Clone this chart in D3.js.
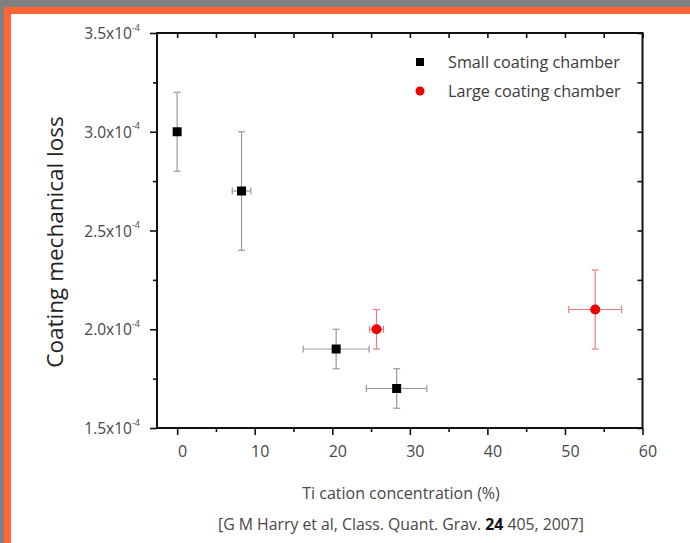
<!DOCTYPE html>
<html>
<head>
<meta charset="utf-8">
<script src="https://cdn.jsdelivr.net/npm/d3@7/dist/d3.min.js"></script>
<style>
  html, body { margin: 0; padding: 0; background: #808080; }
  svg { display: block; }
  text { font-family: "Open Sans", "DejaVu Sans", sans-serif; }
</style>
</head>
<body>
<script>
// Ti cation concentration (%) on x, coating mechanical loss (x10^-4) on y
const smallX    = [0, 8.3, 20.5, 28.3];
const smallY    = [3.0, 2.7, 1.9, 1.7];
const smallXErr = [0, 1.2, 4.25, 3.9];
const smallYErr = [0.2, 0.3, 0.1, 0.1];

const largeX    = [25.7, 53.9];
const largeY    = [2.0, 2.1];
const largeXErr = [0.9, 3.4];
const largeYErr = [0.1, 0.2];

const xTicks = [0, 10, 20, 30, 40, 50, 60];
const xMinorTicks = [5, 15, 25, 35, 45, 55];
const yTicks = [1.5, 2.0, 2.5, 3.0, 3.5];
const yTickLabels = ["1.5x10", "2.0x10", "2.5x10", "3.0x10", "3.5x10"];
const yMinorTicks = [1.75, 2.25, 2.75, 3.25];
const legendLabels = ["Small coating chamber", "Large coating chamber"];

(function draw() {
  const W = 690, H = 543;
  const svg = d3.select("body").append("svg").attr("width", W).attr("height", H);

  // slide frame: orange border with white panel
  svg.append("rect").attr("x", 4).attr("y", 7).attr("width", W - 4).attr("height", H - 7).attr("fill", "#ff6633");
  svg.append("rect").attr("x", 11).attr("y", 14).attr("width", W - 11).attr("height", H - 14).attr("fill", "#ffffff");

  const x = d3.scaleLinear().domain([-2.6, 60]).range([157, 642.5]);
  const y = d3.scaleLinear().domain([1.5, 3.5]).range([428, 33]);

  const pl = x.range()[0], pr = x.range()[1], pt = y.range()[1], pb = y.range()[0];

  const axisColor = "#111";
  const labelColor = "#474747";

  // bottom axis: major + minor ticks pointing out
  const gB = svg.append("g").attr("transform", `translate(0,${pb})`);
  gB.call(d3.axisBottom(x).tickValues(xTicks).tickSize(7).tickPadding(11).tickFormat(d3.format("d")));
  gB.selectAll(".tick text").attr("font-size", 16).attr("dx", 5).attr("fill", labelColor)
    .style("font-family", "'Open Sans', sans-serif");
  const gBm = svg.append("g").attr("transform", `translate(0,${pb})`);
  gBm.call(d3.axisBottom(x).tickValues(xMinorTicks).tickSize(4).tickFormat(""));

  // top axis: ticks pointing in
  const gT = svg.append("g").attr("transform", `translate(0,${pt})`);
  gT.call(d3.axisBottom(x).tickValues(xTicks.concat(xMinorTicks)).tickSize(5).tickFormat(""));

  // left axis: major + minor ticks pointing out
  const gL = svg.append("g").attr("transform", `translate(${pl},0)`);
  gL.call(d3.axisLeft(y).tickValues(yTicks).tickSize(7).tickPadding(10).tickFormat((d, i) => yTickLabels[i]));
  gL.selectAll(".tick text")
    .attr("font-size", 15.5).attr("fill", labelColor).style("font-family", "'Open Sans', sans-serif")
    .attr("dy", "0.36em")
    .append("tspan").attr("font-size", 9).attr("dy", "-0.95em").text("-4");
  const gLm = svg.append("g").attr("transform", `translate(${pl},0)`);
  gLm.call(d3.axisLeft(y).tickValues(yMinorTicks).tickSize(4).tickFormat(""));

  // right axis: ticks pointing in
  const gR = svg.append("g").attr("transform", `translate(${pr},0)`);
  gR.call(d3.axisRight(y).tickValues(yTicks.concat(yMinorTicks)).tickSize(-5).tickFormat(""));

  svg.selectAll(".domain").remove();
  svg.selectAll(".tick line").attr("stroke", axisColor).attr("stroke-width", 1.6);

  // plot frame
  svg.append("rect")
    .attr("x", pl).attr("y", pt).attr("width", pr - pl).attr("height", pb - pt)
    .attr("fill", "none").attr("stroke", axisColor).attr("stroke-width", 2);

  // error bars
  function errorBars(xs, ys, xe, ye, color) {
    const g = svg.append("g").attr("stroke", color).attr("stroke-width", 1.2).attr("fill", "none");
    const cap = 3.5;
    xs.forEach((xv, i) => {
      const cx = x(xv), cy = y(ys[i]);
      if (ye[i] > 0) {
        const y0 = y(ys[i] - ye[i]), y1 = y(ys[i] + ye[i]);
        g.append("line").attr("x1", cx).attr("x2", cx).attr("y1", y0).attr("y2", y1);
        g.append("line").attr("x1", cx - cap).attr("x2", cx + cap).attr("y1", y0).attr("y2", y0);
        g.append("line").attr("x1", cx - cap).attr("x2", cx + cap).attr("y1", y1).attr("y2", y1);
      }
      if (xe[i] > 0) {
        const x0 = x(xv - xe[i]), x1 = x(xv + xe[i]);
        g.append("line").attr("x1", x0).attr("x2", x1).attr("y1", cy).attr("y2", cy);
        g.append("line").attr("x1", x0).attr("x2", x0).attr("y1", cy - cap).attr("y2", cy + cap);
        g.append("line").attr("x1", x1).attr("x2", x1).attr("y1", cy - cap).attr("y2", cy + cap);
      }
    });
  }
  errorBars(smallX, smallY, smallXErr, smallYErr, "#9a9a9a");
  errorBars(largeX, largeY, largeXErr, largeYErr, "#f07a7a");

  // markers
  const sq = 9;
  svg.append("g").selectAll("rect").data(smallX).join("rect")
    .attr("x", (d) => x(d) - sq / 2).attr("y", (d, i) => y(smallY[i]) - sq / 2)
    .attr("width", sq).attr("height", sq).attr("fill", "#000");
  svg.append("g").selectAll("circle").data(largeX).join("circle")
    .attr("cx", (d) => x(d)).attr("cy", (d, i) => y(largeY[i])).attr("r", 5)
    .attr("fill", "#ee0000");

  // legend
  const lg = svg.append("g");
  lg.append("rect").attr("x", 416).attr("y", 58).attr("width", 8).attr("height", 8).attr("fill", "#000");
  lg.append("circle").attr("cx", 420).attr("cy", 91).attr("r", 4.5).attr("fill", "#ee0000");
  lg.selectAll("text").data(legendLabels).join("text")
    .attr("x", 448).attr("y", (d, i) => 62 + i * 29).attr("dy", "0.36em")
    .attr("font-size", 16.2).attr("fill", "#3a3a3a").text(d => d);

  // axis titles
  svg.append("text")
    .attr("transform", `translate(63,242) rotate(-90)`)
    .attr("text-anchor", "middle").attr("font-size", 22.5).attr("fill", "#222")
    .text("Coating mechanical loss");

  svg.append("text")
    .attr("x", 401).attr("y", 493).attr("dy", "0.36em")
    .attr("text-anchor", "middle").attr("font-size", 16).attr("fill", labelColor)
    .text("Ti cation concentration (%)");

  const cite = svg.append("text")
    .attr("x", 401).attr("y", 524).attr("dy", "0.36em")
    .attr("text-anchor", "middle").attr("font-size", 15.8).attr("fill", labelColor);
  cite.append("tspan").text("[G M Harry et al, Class. Quant. Grav. ");
  cite.append("tspan").attr("font-weight", "bold").attr("fill", "#111").text("24");
  cite.append("tspan").text(" 405, 2007]");
})();
</script>
</body>
</html>
